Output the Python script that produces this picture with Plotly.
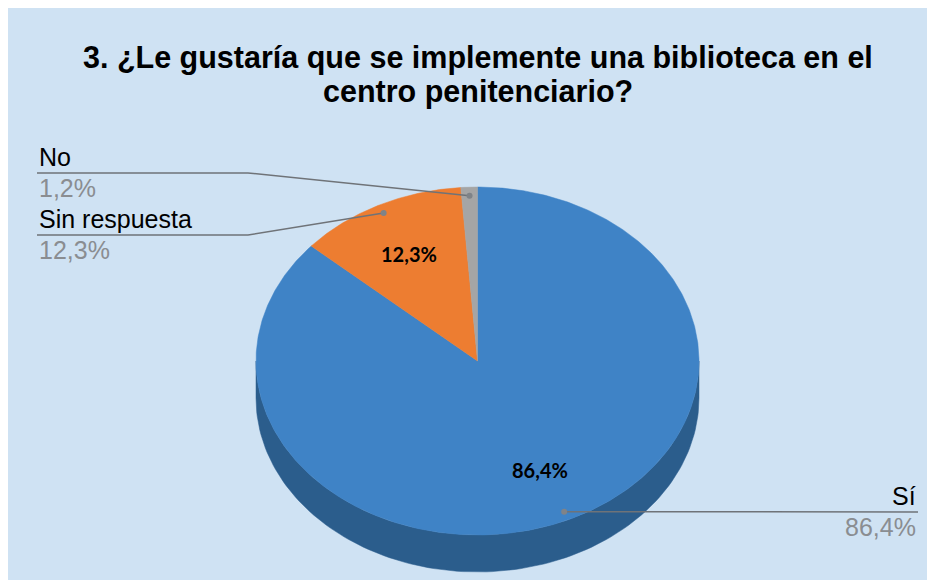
import numpy as np
import plotly.graph_objects as go

# ---- data ----
categories = ["Sí", "Sin respuesta", "No"]
values = [86.4, 12.3, 1.2]
top_colors = ["#3F83C6", "#ED7D31", "#A5A5A5"]
side_colors = ["#2B5D8C", "#B55F22", "#7C7C7C"]
title_lines = ["3. ¿Le gustaría que se implemente una biblioteca en el", "centro penitenciario?"]

# ---- geometry (screen pixel space; page body has an 8px margin) ----
OFF = 8
W, H = 935 - OFF, 580 - OFF
cx, cy, rx, ry, depth = 477.5, 361.0, 221.5, 174.0, 37.0

def pt(theta_deg, r=1.0, dy=0.0):
    t = np.radians(theta_deg)
    return cx + rx * r * np.sin(t), cy - ry * r * np.cos(t) + dy

total = sum(values)
bounds = np.concatenate([[0], np.cumsum(values) / total * 360.0])

fig = go.Figure()

# side (front half visible: theta 90..270)
for i, cat in enumerate(categories):
    a0, a1 = max(bounds[i], 90), min(bounds[i + 1], 270)
    if a1 <= a0:
        continue
    th = np.linspace(a0, a1, 120)
    xs_top, ys_top = pt(th)
    xs_bot, ys_bot = pt(th[::-1], dy=depth)
    xs = np.concatenate([xs_top, xs_bot, xs_top[:1]])
    ys = np.concatenate([ys_top, ys_bot, ys_top[:1]])
    fig.add_trace(go.Scatter(x=xs, y=ys, fill="toself", fillcolor=side_colors[i],
                             mode="lines", line=dict(color=side_colors[i], width=0.5),
                             hoverinfo="skip", showlegend=False))

# top slices
for i, cat in enumerate(categories):
    th = np.linspace(bounds[i], bounds[i + 1], max(8, int((bounds[i + 1] - bounds[i]) * 2)))
    ax, ay = pt(th)
    xs = np.concatenate([[cx], ax, [cx]])
    ys = np.concatenate([[cy], ay, [cy]])
    fig.add_trace(go.Scatter(x=xs, y=ys, fill="toself", fillcolor=top_colors[i],
                             mode="lines", line=dict(color=top_colors[i], width=0.5),
                             name=cat, hoverinfo="name", showlegend=False))

def fmt(v):
    return f"{v:.1f}".replace(".", ",") + "%"

# inside labels (only the larger slices)
for i, cat in enumerate(categories):
    if values[i] < 5:
        continue
    mid = (bounds[i] + bounds[i + 1]) / 2
    lx, ly = pt(mid, r=0.69)
    fig.add_annotation(x=lx, y=ly, text=f"<b>{fmt(values[i])}</b>", showarrow=False,
                       font=dict(family="Lato, Liberation Sans", size=20, color="#000000"))

# leader lines + outside labels
label_layout = {
    "Sí": dict(elbow=None, end=(918, 512), side="right"),
    "Sin respuesta": dict(elbow=(248, 235), end=(37, 235), side="left"),
    "No": dict(elbow=(248, 173), end=(37, 173), side="left"),
}
for i, cat in enumerate(categories):
    mid = (bounds[i] + bounds[i + 1]) / 2
    px, py = pt(mid, r=0.95)
    L = label_layout[cat]
    xs, ys = [px], [py]
    if L["elbow"]:
        xs.append(L["elbow"][0]); ys.append(L["elbow"][1])
    xs.append(L["end"][0]); ys.append(L["end"][1])
    fig.add_trace(go.Scatter(x=xs, y=ys, mode="lines", line=dict(color="#6F7378", width=1.5),
                             hoverinfo="skip", showlegend=False))
    fig.add_trace(go.Scatter(x=[px], y=[py], mode="markers",
                             marker=dict(color="#7F8388", size=6),
                             hoverinfo="skip", showlegend=False))
    ex, ey = L["end"]
    anchor = "left" if L["side"] == "left" else "right"
    fig.add_annotation(x=ex, y=ey - 16, text=cat, showarrow=False, xanchor=anchor,
                       yanchor="middle",
                       font=dict(family="Liberation Sans, Arial", size=25, color="#000000"))
    fig.add_annotation(x=ex, y=ey + 15, text=fmt(values[i]), showarrow=False, xanchor=anchor,
                       yanchor="middle",
                       font=dict(family="Liberation Sans, Arial", size=25, color="#8A8D91"))

# title
fig.add_annotation(x=477.5, y=57, text=f"<b>{title_lines[0]}</b>", showarrow=False,
                   font=dict(family="Liberation Sans, Arial", size=30.5, color="#000000"))
fig.add_annotation(x=477.5, y=91, text=f"<b>{title_lines[1]}</b>", showarrow=False,
                   font=dict(family="Liberation Sans, Arial", size=30.5, color="#000000"))

fig.update_layout(
    width=W, height=H, margin=dict(l=0, r=0, t=0, b=0),
    paper_bgcolor="#CFE2F3", plot_bgcolor="rgba(0,0,0,0)",
    xaxis=dict(range=[OFF, OFF + W], visible=False, fixedrange=True),
    yaxis=dict(range=[OFF + H, OFF], visible=False, fixedrange=True),
    showlegend=False,
)

fig.write_html("out.html")
